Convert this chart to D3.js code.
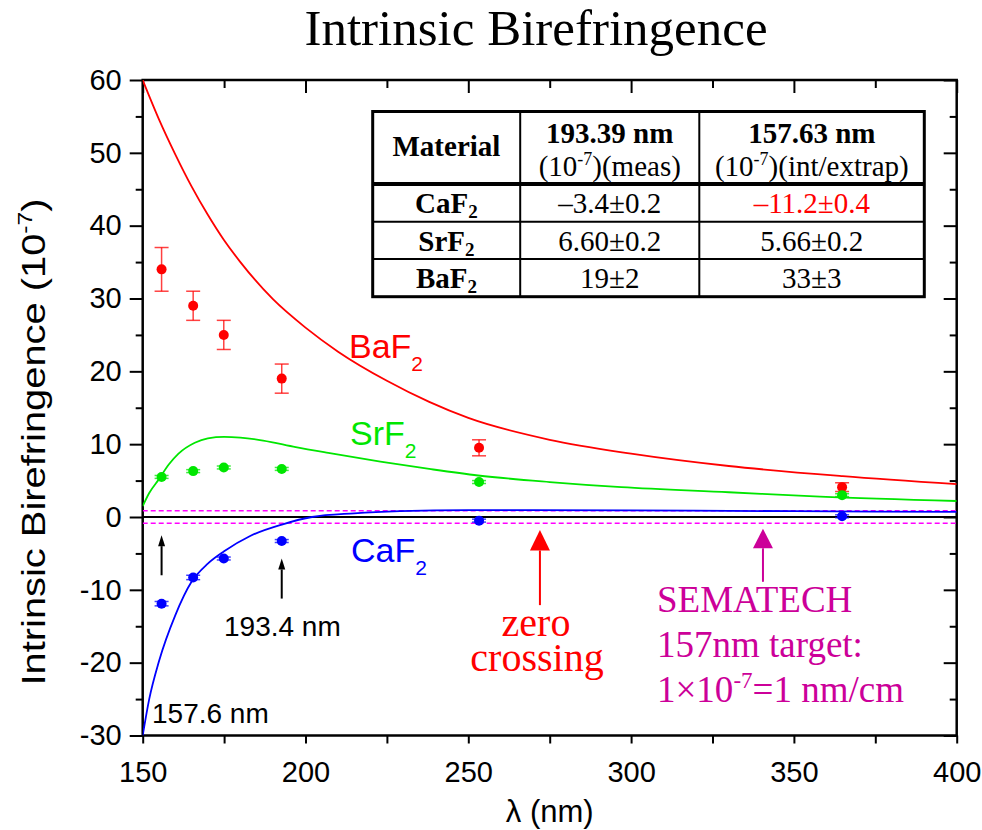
<!DOCTYPE html>
<html>
<head>
<meta charset="utf-8">
<script src="https://cdn.jsdelivr.net/npm/d3@7"></script>
<style>
body { margin: 0; background: #fff; }
</style>
</head>
<body>
<script>
// curve data
var baf2CurveX = [150, 155, 160, 165, 170, 175, 180, 190, 200, 210, 225, 238, 250, 275, 300, 330, 365, 400];
var baf2CurveY = [60, 54.6, 49.8, 45.4, 41.5, 38.0, 35.0, 29.9, 26.0, 22.7, 18.7, 15.8, 13.6, 10.6, 8.7, 7.0, 5.6, 4.5];

var srf2CurveX = [150, 152, 155, 158, 161, 166, 170, 175, 180, 187, 197, 207, 223, 238, 253, 275, 297, 330, 358, 400];
var srf2CurveY = [1.5, 3.3, 5.2, 7.2, 8.7, 10.2, 10.8, 11.0, 10.9, 10.5, 9.6, 8.8, 7.6, 6.6, 5.7, 4.8, 4.1, 3.4, 2.8, 2.2];

var caf2CurveX = [150, 152, 155, 160, 165, 170, 175, 183, 193, 202, 215, 229, 250, 300, 350, 400];
var caf2CurveY = [-30, -25, -19.8, -13.5, -8.9, -6.4, -4.7, -2.6, -1.0, 0, 0.5, 0.8, 0.95, 0.9, 0.8, 0.7];

// measured points
var measX = [155.8, 165.5, 174.9, 192.7, 253.3, 364.8];
var baf2Y = [34, 29, 25, 19, 9.5, 4.1];
var baf2Err = [3, 2, 2, 2, 1.1, 0.6];
var srf2Y = [5.5, 6.3, 6.8, 6.6, 4.8, 3.0];
var srf2Err = [0.2, 0.2, 0.2, 0.2, 0.2, 0.2];
var caf2Y = [-11.9, -8.3, -5.7, -3.3, -0.5, 0.1];
var caf2Err = [0.3, 0.3, 0.2, 0.2, 0.2, 0.2];

var targetBand = [-0.85, 0.85];

// axis ticks
var xMajor = [150, 200, 250, 300, 350, 400];
var xMinor = [175, 225, 275, 325, 375];
var yMajor = [-30, -20, -10, 0, 10, 20, 30, 40, 50, 60];
var yMinor = [-25, -15, -5, 5, 15, 25, 35, 45, 55];

// table
var tableHeads = ["193.39 nm", "157.63 nm"];
var tableUnits = ["(meas)", "(int/extrap)"];
var tableMaterials = ["CaF", "SrF", "BaF"];
var meas193 = ["\u20133.4\u00b10.2", "6.60\u00b10.2", "19\u00b12"];
var extrap157 = ["\u201311.2\u00b10.4", "5.66\u00b10.2", "33\u00b13"];

var sans = "'Liberation Sans', Arial, sans-serif";
var serif = "'Liberation Serif', 'Times New Roman', serif";

var svg = d3.select("body").append("svg")
	.attr("width", 982)
	.attr("height", 830);

var x = d3.scaleLinear().domain([150, 400]).range([142.7, 956.7]);
var y = d3.scaleLinear().domain([-30, 60]).range([735.5, 80]);

svg.append("defs").append("clipPath").attr("id", "plotclip")
	.append("rect")
	.attr("x", x(150)).attr("y", y(60))
	.attr("width", x(400) - x(150)).attr("height", y(-30) - y(60));

// title
svg.append("text")
	.attr("x", 536).attr("y", 45)
	.attr("text-anchor", "middle")
	.style("font-family", serif)
	.style("font-size", "51px")
	.text("Intrinsic Birefringence");

// axes
function styleAxis(g) {
	g.select(".domain").remove();
	g.selectAll(".tick line").attr("stroke", "#000").attr("stroke-width", 2);
	g.selectAll("text").style("font-family", sans).style("font-size", "29px").attr("fill", "#000");
}
var fmt = function(d) { return String(d); };

svg.append("g").attr("transform", "translate(0," + y(-30) + ")")
	.call(d3.axisBottom(x).tickValues(xMajor).tickSize(8).tickPadding(18).tickFormat(fmt))
	.call(styleAxis);
svg.append("g").attr("transform", "translate(0," + y(-30) + ")")
	.call(d3.axisBottom(x).tickValues(xMinor).tickSize(8).tickFormat(""))
	.call(styleAxis);
svg.append("g").attr("transform", "translate(" + x(150) + ",0)")
	.call(d3.axisLeft(y).tickValues(yMajor).tickSize(13).tickPadding(8).tickFormat(fmt))
	.call(styleAxis);
svg.append("g").attr("transform", "translate(" + x(150) + ",0)")
	.call(d3.axisLeft(y).tickValues(yMinor).tickSize(7).tickFormat(""))
	.call(styleAxis);
svg.append("g").attr("transform", "translate(0," + y(60) + ")")
	.call(d3.axisTop(x).tickValues(xMajor).tickSize(-13).tickFormat(""))
	.call(styleAxis);
svg.append("g").attr("transform", "translate(0," + y(60) + ")")
	.call(d3.axisTop(x).tickValues(xMinor).tickSize(-8).tickFormat(""))
	.call(styleAxis);
svg.append("g").attr("transform", "translate(" + x(400) + ",0)")
	.call(d3.axisRight(y).tickValues(yMajor).tickSize(-13).tickFormat(""))
	.call(styleAxis);
svg.append("g").attr("transform", "translate(" + x(400) + ",0)")
	.call(d3.axisRight(y).tickValues(yMinor).tickSize(-7).tickFormat(""))
	.call(styleAxis);

// frame
svg.append("rect")
	.attr("x", x(150)).attr("y", y(60))
	.attr("width", x(400) - x(150)).attr("height", y(-30) - y(60))
	.attr("fill", "none").attr("stroke", "#000").attr("stroke-width", 2.5);

// axis titles
svg.append("text")
	.attr("x", (x(150) + x(400)) / 2).attr("y", 822)
	.attr("text-anchor", "middle")
	.style("font-family", sans).style("font-size", "31px")
	.text("\u03bb (nm)");

var ylab = svg.append("text")
	.attr("transform", "translate(45,442) rotate(-90)")
	.attr("text-anchor", "middle")
	.attr("textLength", 487)
	.attr("lengthAdjust", "spacingAndGlyphs")
	.style("font-family", sans).style("font-size", "34px");
ylab.append("tspan").text("Intrinsic Birefringence (10");
ylab.append("tspan").attr("dy", -13).style("font-size", "21px").text("-7");
ylab.append("tspan").attr("dy", 13).text(")");

var plot = svg.append("g").attr("clip-path", "url(#plotclip)");

// zero line and target band
plot.append("line")
	.attr("x1", x(150)).attr("x2", x(400))
	.attr("y1", y(0)).attr("y2", y(0))
	.attr("stroke", "#000").attr("stroke-width", 1.8);
plot.selectAll(".band").data(targetBand).enter().append("line")
	.attr("x1", x(150)).attr("x2", x(400))
	.attr("y1", function(d) { return y(d); }).attr("y2", function(d) { return y(d); })
	.attr("stroke", "#ff00ff").attr("stroke-width", 1.6)
	.attr("stroke-dasharray", "5,3");

// curves
var line = d3.line()
	.x(function(d) { return x(d[0]); })
	.y(function(d) { return y(d[1]); })
	.curve(d3.curveMonotoneX);

var curves = [
	{xs: baf2CurveX, ys: baf2CurveY, color: "#ff0000"},
	{xs: srf2CurveX, ys: srf2CurveY, color: "#00e600"},
	{xs: caf2CurveX, ys: caf2CurveY, color: "#0000ff"}
];
curves.forEach(function(c) {
	plot.append("path")
		.datum(d3.zip(c.xs, c.ys))
		.attr("fill", "none")
		.attr("stroke", c.color)
		.attr("stroke-width", 1.8)
		.attr("d", line);
});

// measured points with error bars
var sets = [
	{ys: baf2Y, errs: baf2Err, color: "#ff0000"},
	{ys: srf2Y, errs: srf2Err, color: "#00e600"},
	{ys: caf2Y, errs: caf2Err, color: "#0000ff"}
];
sets.forEach(function(s) {
	var pts = measX.map(function(lx, i) { return {x: lx, y: s.ys[i], e: s.errs[i]}; });
	var g = svg.append("g");
	g.selectAll(".eb").data(pts).enter().append("line")
		.attr("x1", function(d) { return x(d.x); }).attr("x2", function(d) { return x(d.x); })
		.attr("y1", function(d) { return y(d.y - d.e); }).attr("y2", function(d) { return y(d.y + d.e); })
		.attr("stroke", s.color).attr("stroke-opacity", 0.75).attr("stroke-width", 1.5);
	[-1, 1].forEach(function(sg) {
		g.selectAll(".cap" + sg).data(pts).enter().append("line")
			.attr("x1", function(d) { return x(d.x) - 7; }).attr("x2", function(d) { return x(d.x) + 7; })
			.attr("y1", function(d) { return y(d.y + sg * d.e); }).attr("y2", function(d) { return y(d.y + sg * d.e); })
			.attr("stroke", s.color).attr("stroke-opacity", 0.75).attr("stroke-width", 1.5);
	});
	g.selectAll("circle").data(pts).enter().append("circle")
		.attr("cx", function(d) { return x(d.x); })
		.attr("cy", function(d) { return y(d.y); })
		.attr("r", 5)
		.attr("fill", s.color);
});

// series labels
function subLabel(txt, px, py, color) {
	var t = svg.append("text").attr("x", px).attr("y", py)
		.style("font-family", sans).style("font-size", "34px").attr("fill", color);
	t.append("tspan").text(txt);
	t.append("tspan").attr("dy", 13).style("font-size", "21px").text("2");
}
subLabel("BaF", 349, 358, "#ff0000");
subLabel("SrF", 350, 445, "#00e600");
subLabel("CaF", 351, 562, "#0000ff");

// arrows
function arrow(lx, yBottom, yTip, yBase, halfW, color, sw) {
	svg.append("line")
		.attr("x1", x(lx)).attr("x2", x(lx))
		.attr("y1", y(yBottom)).attr("y2", y(yBase))
		.attr("stroke", color).attr("stroke-width", sw);
	svg.append("path")
		.attr("d", "M" + x(lx) + "," + y(yTip) + "L" + (x(lx) - halfW) + "," + y(yBase) +
			"L" + (x(lx) + halfW) + "," + y(yBase) + "Z")
		.attr("fill", color);
}
arrow(155.8, -8.0, -2.5, -4.0, 3.5, "#000", 2);
arrow(192.7, -11.2, -5.7, -7.2, 3.5, "#000", 2);
arrow(272, -12.1, -1.8, -4.6, 10, "#ff0000", 2);
arrow(340.5, -8.9, -1.6, -4.3, 10, "#cc0099", 2);

// text annotations
svg.append("text").attr("x", 224).attr("y", 636)
	.style("font-family", sans).style("font-size", "28px").text("193.4 nm");
svg.append("text").attr("x", 152).attr("y", 723)
	.style("font-family", sans).style("font-size", "28px").text("157.6 nm");

svg.append("text").attr("x", 536).attr("y", 636)
	.attr("text-anchor", "middle").attr("fill", "#ff0000")
	.style("font-family", serif).style("font-size", "40px").text("zero");
svg.append("text").attr("x", 537).attr("y", 671)
	.attr("text-anchor", "middle").attr("fill", "#ff0000")
	.style("font-family", serif).style("font-size", "40px").text("crossing");

var semaLines = ["SEMATECH", "157nm target:"];
semaLines.forEach(function(s, i) {
	svg.append("text").attr("x", 657).attr("y", 612 + i * 45)
		.attr("fill", "#cc0099")
		.style("font-family", serif).style("font-size", "37px").text(s);
});
var sm = svg.append("text").attr("x", 657).attr("y", 702)
	.attr("fill", "#cc0099")
	.style("font-family", serif).style("font-size", "37px");
sm.append("tspan").text("1\u00d710");
sm.append("tspan").attr("dy", -14).style("font-size", "23px").text("-7");
sm.append("tspan").attr("dy", 14).text("=1 nm/cm");

// table
var colEdges = [372.7, 520.2, 699.3, 924.3];
var rowEdges = [111.5, 184, 221.7, 259, 296.7];
var tbl = svg.append("g");
tbl.append("rect").attr("x", colEdges[0]).attr("y", rowEdges[0])
	.attr("width", colEdges[3] - colEdges[0]).attr("height", rowEdges[4] - rowEdges[0])
	.attr("fill", "#fff").attr("stroke", "#000").attr("stroke-width", 3);
[1, 2].forEach(function(i) {
	tbl.append("line").attr("x1", colEdges[i]).attr("x2", colEdges[i])
		.attr("y1", rowEdges[0]).attr("y2", rowEdges[4])
		.attr("stroke", "#000").attr("stroke-width", 2);
});
[1, 2, 3].forEach(function(i) {
	tbl.append("line").attr("x1", colEdges[0]).attr("x2", colEdges[3])
		.attr("y1", rowEdges[i]).attr("y2", rowEdges[i])
		.attr("stroke", "#000").attr("stroke-width", i == 1 ? 4 : 2);
});
var colMid = [0, 1, 2].map(function(i) { return (colEdges[i] + colEdges[i + 1]) / 2; });

tbl.append("text").attr("x", colMid[0]).attr("y", 156)
	.attr("text-anchor", "middle").style("font-family", serif)
	.style("font-size", "29px").style("font-weight", "bold").text("Material");
tableHeads.forEach(function(h, i) {
	tbl.append("text").attr("x", colMid[i + 1]).attr("y", 143)
		.attr("text-anchor", "middle").style("font-family", serif)
		.style("font-size", "29px").style("font-weight", "bold").text(h);
	var u = tbl.append("text").attr("x", colMid[i + 1]).attr("y", 176)
		.attr("text-anchor", "middle").style("font-family", serif).style("font-size", "29px");
	u.append("tspan").text("(10");
	u.append("tspan").attr("dy", -11).style("font-size", "18px").text("-7");
	u.append("tspan").attr("dy", 11).text(")" + tableUnits[i]);
});
tableMaterials.forEach(function(m, r) {
	var by = rowEdges[r + 1] + 29;
	var t = tbl.append("text").attr("x", colMid[0]).attr("y", by)
		.attr("text-anchor", "middle").style("font-family", serif)
		.style("font-size", "29px").style("font-weight", "bold");
	t.append("tspan").text(m);
	t.append("tspan").attr("dy", 5).style("font-size", "19px").text("2");
	tbl.append("text").attr("x", colMid[1]).attr("y", by)
		.attr("text-anchor", "middle").style("font-family", serif)
		.style("font-size", "29px").text(meas193[r]);
	tbl.append("text").attr("x", colMid[2]).attr("y", by)
		.attr("text-anchor", "middle").style("font-family", serif)
		.attr("fill", r == 0 ? "#ff0000" : "#000")
		.style("font-size", "29px").text(extrap157[r]);
});
</script>
</body>
</html>
